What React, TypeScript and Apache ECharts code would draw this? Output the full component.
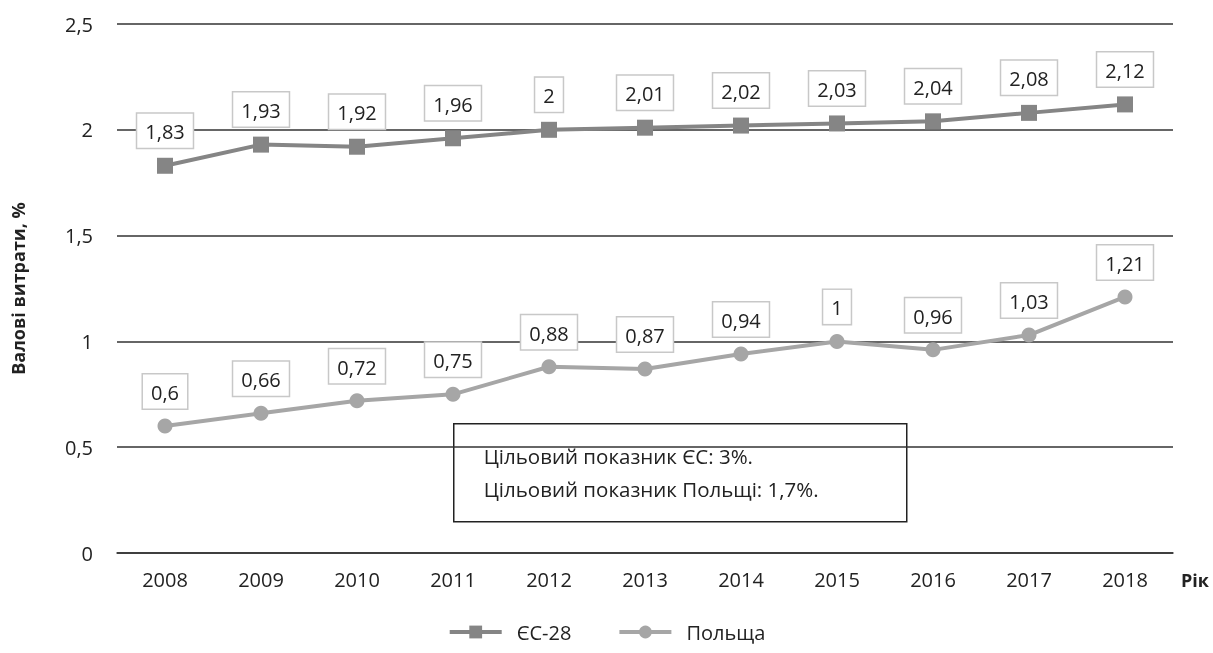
import React, { useEffect, useRef } from "react";
import * as echarts from "echarts";

const years = ["2008", "2009", "2010", "2011", "2012", "2013", "2014", "2015", "2016", "2017", "2018"];
const eu28 = [1.83, 1.93, 1.92, 1.96, 2, 2.01, 2.02, 2.03, 2.04, 2.08, 2.12];
const poland = [0.6, 0.66, 0.72, 0.75, 0.88, 0.87, 0.94, 1, 0.96, 1.03, 1.21];
const seriesNames = ["ЄС-28", "Польща"];
const noteLines = ["Цільовий показник ЄС: 3%.", "Цільовий показник Польщі: 1,7%."];

const FONT = "'Open Sans', 'Noto Sans', sans-serif";
const fmt = (v: number) => String(v).replace(".", ",");

export default function App() {
  const ref = useRef<HTMLDivElement>(null);
  useEffect(() => {
    if (!ref.current) return;
    const chart = echarts.init(ref.current, null, { renderer: "svg" });
    const label = {
      show: true,
      position: "top",
      distance: 10,
      formatter: (p: any) => fmt(p.value),
      color: "#222",
      fontSize: 20,
      fontFamily: FONT,
      backgroundColor: "#fff",
      borderColor: "#c8c8c8",
      borderWidth: 1.5,
      padding: [8, 8, 6, 8],
    };
    chart.setOption({
      animation: false,
      textStyle: { fontFamily: FONT },
      grid: { left: 117, right: 40, top: 24, bottom: 100 },
      legend: {
        bottom: 6,
        left: "center",
        itemWidth: 52,
        itemHeight: 16,
        itemGap: 46,
        lineStyle: { width: 4 },
        textStyle: { fontSize: 20, color: "#222", fontFamily: FONT, padding: [0, 0, 0, 10] },
        data: seriesNames,
      },
      xAxis: {
        type: "category",
        data: years,
        boundaryGap: true,
        name: "Рік",
        nameLocation: "end",
        nameGap: 8,
        nameTextStyle: { fontSize: 18, fontWeight: "bold", color: "#222", verticalAlign: "top", padding: [18, 0, 0, 0] },
        axisLine: { show: true, lineStyle: { color: "#333", width: 1.5 } },
        axisTick: { show: false },
        axisLabel: { fontSize: 20, color: "#222", margin: 16 },
      },
      yAxis: {
        type: "value",
        min: 0,
        max: 2.5,
        interval: 0.5,
        name: "Валові витрати, %",
        nameLocation: "middle",
        nameGap: 90,
        nameTextStyle: { fontSize: 18, fontWeight: "bold", color: "#222" },
        axisLine: { show: false },
        axisTick: { show: false },
        axisLabel: { fontSize: 20, color: "#222", margin: 24, formatter: (v: number) => fmt(v) },
        splitLine: { lineStyle: { color: "#333", width: 1.5 } },
      },
      series: [
        {
          name: seriesNames[0],
          type: "line",
          data: eu28,
          symbol: "rect",
          symbolSize: 16,
          itemStyle: { color: "#858585" },
          lineStyle: { color: "#858585", width: 4 },
          label,
          z: 3,
        },
        {
          name: seriesNames[1],
          type: "line",
          data: poland,
          symbol: "circle",
          symbolSize: 15,
          itemStyle: { color: "#a6a6a6" },
          lineStyle: { color: "#a6a6a6", width: 4 },
          label,
          z: 3,
        },
      ],
      graphic: [
        {
          type: "group",
          left: 453,
          top: 423,
          z: 10,
          children: [
            {
              type: "rect",
              shape: { x: 0, y: 0, width: 453, height: 98 },
              style: { fill: "#fff", stroke: "#222", lineWidth: 1.5 },
            },
            {
              type: "text",
              x: 30,
              y: 32,
              style: { text: noteLines[0], fontSize: 20.5, fill: "#222", fontFamily: FONT, verticalAlign: "middle" },
            },
            {
              type: "text",
              x: 30,
              y: 65,
              style: { text: noteLines[1], fontSize: 20.5, fill: "#222", fontFamily: FONT, verticalAlign: "middle" },
            },
          ],
        },
      ],
    });
    return () => chart.dispose();
  }, []);
  return <div ref={ref} style={{ position: "fixed", left: 0, top: 0, width: 1213, height: 653 }} />;
}
